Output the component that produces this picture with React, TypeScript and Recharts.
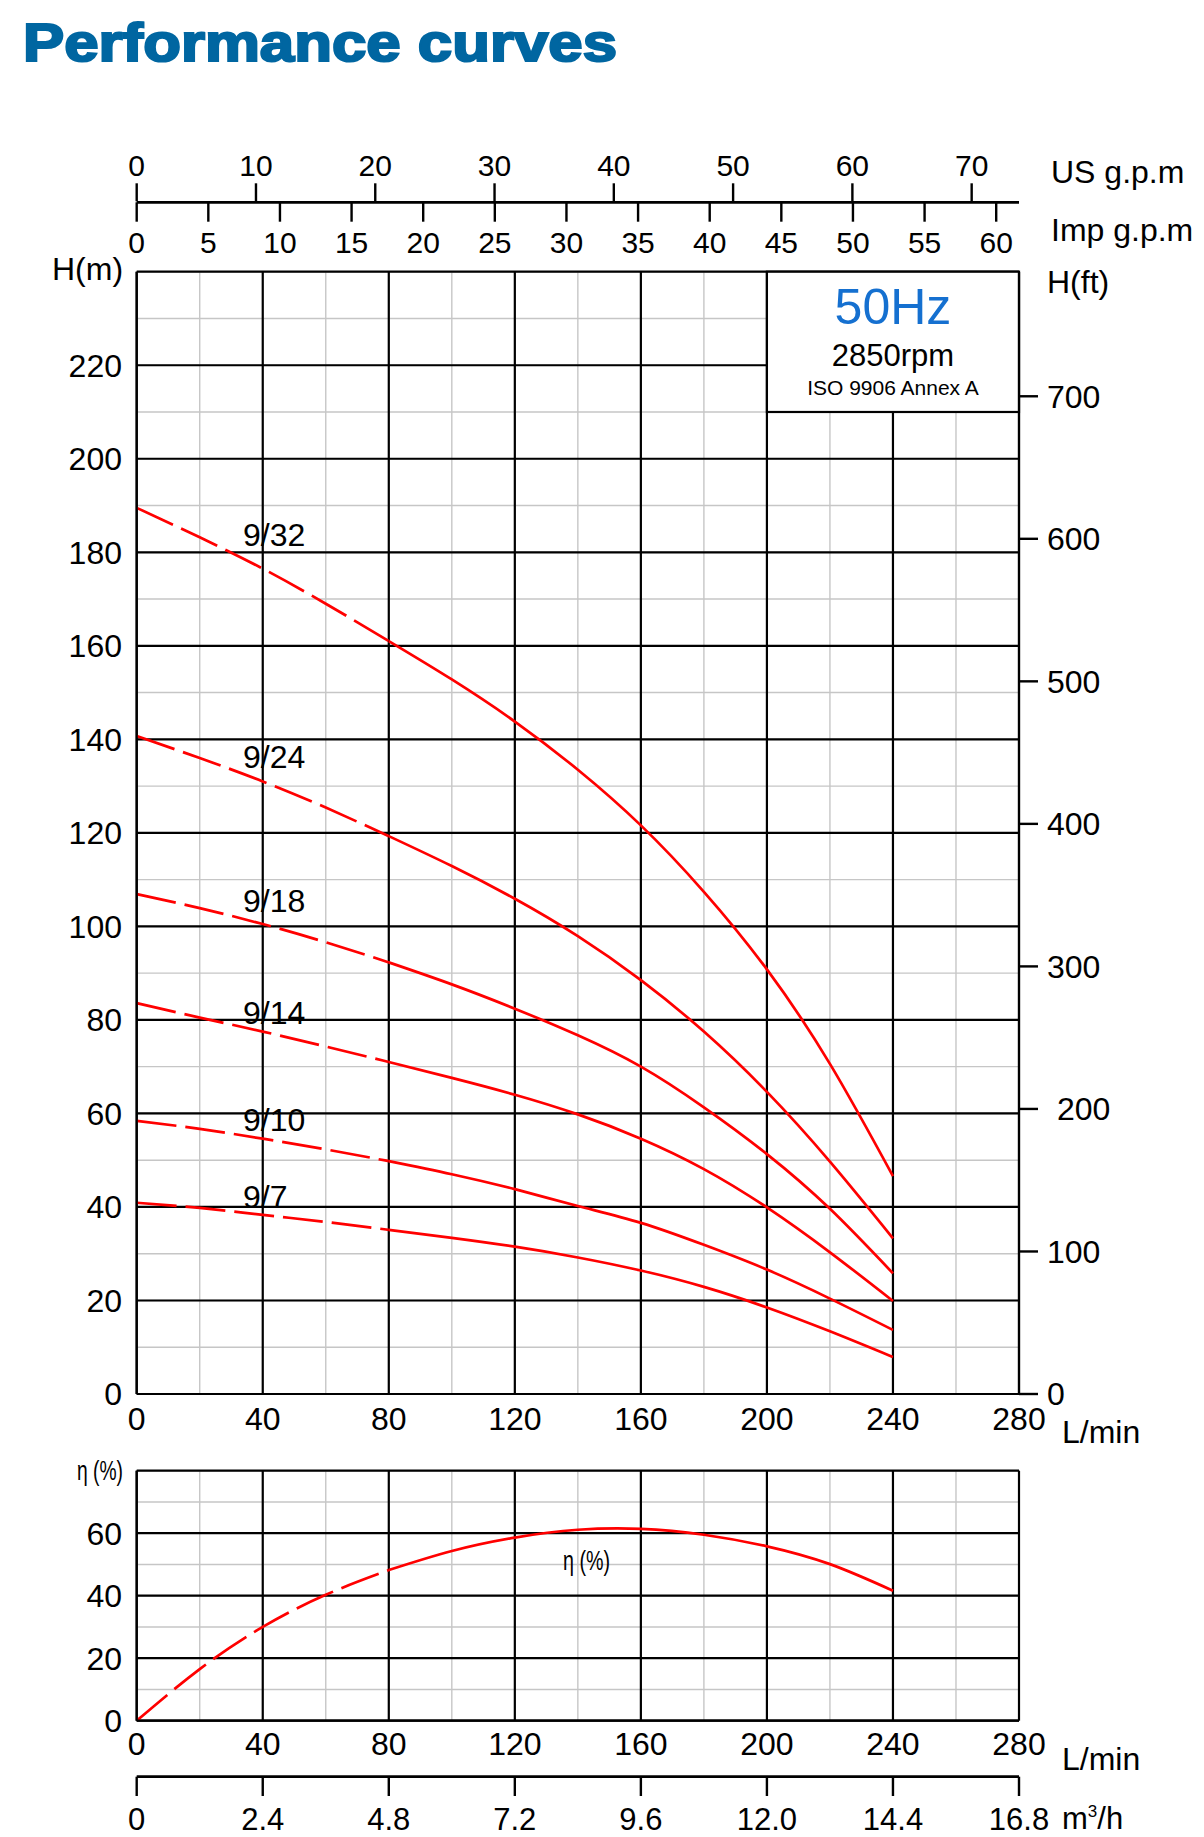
import { LineChart, Line, XAxis, YAxis, CartesianGrid, ReferenceArea, ReferenceDot } from 'recharts';

// flow rate in L/min, read every 20 L/min
const flow = [0, 20, 40, 60, 80, 100, 120, 140, 160, 180, 200, 220, 240];

// head in metres for each pump model
const head932 = [189.5, 183.2, 176.5, 169, 161, 152.8, 143.8, 133.5, 121.6, 107.4, 90.8, 70.6, 46.6];
const head924 = [140.7, 136, 131, 125.4, 119.3, 112.9, 105.9, 97.9, 88.5, 77.5, 64.6, 49.7, 33.3];
const head918 = [106.9, 103.9, 100.5, 96.6, 92.3, 87.6, 82.4, 76.7, 70, 61.3, 51.3, 39.6, 25.8];
const head914 = [83.6, 80.5, 77.5, 74.3, 71, 67.6, 64, 59.8, 54.6, 48.1, 39.9, 30.3, 19.9];
const head910 = [58.4, 56.7, 54.6, 52.3, 49.8, 47, 43.8, 40.2, 36.6, 31.9, 26.6, 20.4, 13.7];
const head97 = [40.9, 39.8, 38.3, 36.8, 35.1, 33.4, 31.5, 29.2, 26.4, 22.9, 18.5, 13.4, 7.9];

// efficiency in %
const efficiency = [0, 16.5, 30, 40.3, 48.2, 54.3, 58.6, 61.1, 61.4, 59.5, 55.8, 50.1, 41.6];

const flowTicks = [0, 40, 80, 120, 160, 200, 240, 280];
const flowMinorTicks = [0, 20, 40, 60, 80, 100, 120, 140, 160, 180, 200, 220, 240, 260, 280];
const headTicks = [0, 20, 40, 60, 80, 100, 120, 140, 160, 180, 200, 220, 240];
const headMinorTicks = [0, 10, 20, 30, 40, 50, 60, 70, 80, 90, 100, 110, 120, 130, 140, 150, 160, 170, 180, 190, 200, 210, 220, 230, 240];
const feetTicks = [0, 100, 200, 300, 400, 500, 600, 700];
const usGpmTicks = [0, 10, 20, 30, 40, 50, 60, 70];
const impGpmTicks = [0, 5, 10, 15, 20, 25, 30, 35, 40, 45, 50, 55, 60];
const effTicks = [0, 20, 40, 60, 80];
const effMinorTicks = [0, 10, 20, 30, 40, 50, 60, 70, 80];

const pumps = [
  { key: 'p32', name: '9/32', head: head932, labelAt: 181.4 },
  { key: 'p24', name: '9/24', head: head924, labelAt: 133.9 },
  { key: 'p18', name: '9/18', head: head918, labelAt: 103.1 },
  { key: 'p14', name: '9/14', head: head914, labelAt: 79.1 },
  { key: 'p10', name: '9/10', head: head910, labelAt: 56.3 },
  { key: 'p7', name: '9/7', head: head97, labelAt: 39.8 },
];

const LABEL_Q = 33.75;
const DASH_END = 80; // curves are dashed below 80 L/min
const US_GAL = 3.78541;
const IMP_GAL = 4.54609;
const M_PER_FT = 0.3048;

const FONT = "'Liberation Sans', Arial, Helvetica, sans-serif";
const RED = '#ff0000';
const MINOR = '#c6c6c6';
const BLACK = '#000';

const headRows = flow.map((q, i) => {
  const row: Record<string, number | null> = { q };
  pumps.forEach((p) => {
    row[p.key + 'd'] = q <= DASH_END ? p.head[i] : null;
    row[p.key] = q >= DASH_END ? p.head[i] : null;
  });
  return row;
});

const effRows = flow.map((q, i) => ({
  q,
  effd: q <= DASH_END ? efficiency[i] : null,
  eff: q >= DASH_END ? efficiency[i] : null,
}));

const axisLine = { stroke: BLACK, strokeWidth: 2.2 };
const tickLine = { stroke: BLACK, strokeWidth: 2.4 };
const tickText = (size: number) => ({ fill: BLACK, fontSize: size, fontFamily: FONT });

function curveProps(dashed: boolean) {
  return {
    type: 'natural' as const,
    stroke: RED,
    strokeWidth: 2.7,
    strokeDasharray: dashed ? '40 9' : undefined,
    dot: false,
    activeDot: false,
    isAnimationActive: false,
  };
}

function InfoBox(props: any) {
  const { x, y, width, height } = props;
  const cx = x + width / 2;
  return (
    <g fontFamily={FONT}>
      <rect x={x} y={y} width={width} height={height} fill="#fff" stroke={BLACK} strokeWidth={2.2} />
      <text x={cx} y={y + 52} textAnchor="middle" fontSize={50} fill="#1570d0">50Hz</text>
      <text x={cx} y={y + 94} textAnchor="middle" fontSize={31} fill={BLACK}>2850rpm</text>
      <text x={cx} y={y + 123} textAnchor="middle" fontSize={21} fill={BLACK}>ISO 9906 Annex A</text>
    </g>
  );
}

function FeetTick(props: any) {
  const { x, y, payload } = props;
  const shift = payload.value === 200 ? 10 : 0;
  return (
    <text x={x + shift} y={y} dy="0.355em" textAnchor="start" fontSize={32} fill={BLACK} fontFamily={FONT}>
      {payload.value}
    </text>
  );
}

function GpmAxes() {
  return (
    <LineChart width={1204} height={170} data={effRows} margin={{ top: 41.3, right: 185, bottom: 0, left: 136.7 }}>
      <XAxis
        xAxisId="us"
        orientation="top"
        dataKey="q"
        type="number"
        domain={[0, 280]}
        allowDataOverflow
        ticks={usGpmTicks.map((g) => g * US_GAL)}
        tickFormatter={(v: number) => String(Math.round(v / US_GAL))}
        interval={0}
        height={60}
        axisLine={false}
        tickLine={tickLine}
        tickSize={18}
        tickMargin={7}
        tick={tickText(30)}
      />
      <XAxis
        xAxisId="imp"
        orientation="bottom"
        dataKey="q"
        type="number"
        domain={[0, 280]}
        allowDataOverflow
        ticks={impGpmTicks.map((g) => g * IMP_GAL)}
        tickFormatter={(v: number) => String(Math.round(v / IMP_GAL))}
        interval={0}
        height={67.7}
        axisLine={{ stroke: BLACK, strokeWidth: 2.7 }}
        tickLine={tickLine}
        tickSize={19.4}
        tickMargin={10}
        tick={tickText(30)}
      />
    </LineChart>
  );
}

function HeadChart() {
  return (
    <LineChart width={1204} height={1200} data={headRows} margin={{ top: 21.7, right: 0, bottom: 0, left: 0 }}>
      <XAxis xAxisId="minor" dataKey="q" type="number" domain={[0, 280]} allowDataOverflow ticks={flowMinorTicks} hide />
      <YAxis yAxisId="minor" type="number" domain={[0, 240]} allowDataOverflow ticks={headMinorTicks} hide />
      <CartesianGrid xAxisId="minor" yAxisId="minor" stroke={MINOR} strokeWidth={1.4} />
      <CartesianGrid stroke={BLACK} strokeWidth={2.2} />
      <XAxis
        dataKey="q"
        type="number"
        domain={[0, 280]}
        allowDataOverflow
        ticks={flowTicks}
        interval={0}
        height={56}
        axisLine={axisLine}
        tickLine={false}
        tickSize={0}
        tickMargin={13}
        tick={tickText(32)}
      />
      <YAxis
        type="number"
        domain={[0, 240]}
        allowDataOverflow
        ticks={headTicks}
        tickFormatter={(v: number) => (v === 240 ? '' : String(v))}
        interval={0}
        width={136.7}
        axisLine={axisLine}
        tickLine={false}
        tickSize={0}
        tickMargin={14.7}
        tick={tickText(32)}
      />
      <YAxis
        yAxisId="ft"
        orientation="right"
        type="number"
        domain={[0, 240 / M_PER_FT]}
        allowDataOverflow
        ticks={feetTicks}
        interval={0}
        width={185}
        axisLine={axisLine}
        tickLine={tickLine}
        tickSize={19}
        tickMargin={9}
        tick={<FeetTick />}
      />
      <ReferenceArea x1={200} x2={280} y1={210} y2={240} shape={<InfoBox />} />
      {pumps.flatMap((p) => [
        <Line key={p.key + 'd'} dataKey={p.key + 'd'} {...curveProps(true)} />,
        <Line key={p.key} dataKey={p.key} {...curveProps(false)} />,
      ])}
      {pumps.map((p) => (
        <ReferenceDot
          key={'lbl' + p.key}
          x={LABEL_Q}
          y={p.labelAt}
          r={0}
          shape={(s: any) => (
            <text x={s.cx} y={s.cy} fontSize={32} fill={BLACK} fontFamily={FONT}>
              {p.name}
            </text>
          )}
        />
      ))}
    </LineChart>
  );
}

function EfficiencyChart() {
  return (
    <LineChart width={1204} height={320} data={effRows} margin={{ top: 20.7, right: 185, bottom: 0, left: 0 }}>
      <XAxis xAxisId="minor" dataKey="q" type="number" domain={[0, 280]} allowDataOverflow ticks={flowMinorTicks} hide />
      <YAxis yAxisId="minor" type="number" domain={[0, 80]} allowDataOverflow ticks={effMinorTicks} hide />
      <CartesianGrid xAxisId="minor" yAxisId="minor" stroke={MINOR} strokeWidth={1.4} />
      <CartesianGrid stroke={BLACK} strokeWidth={2.2} />
      <XAxis
        dataKey="q"
        type="number"
        domain={[0, 280]}
        allowDataOverflow
        ticks={flowTicks}
        interval={0}
        height={49.3}
        axisLine={axisLine}
        tickLine={false}
        tickSize={0}
        tickMargin={12}
        tick={tickText(32)}
      />
      <YAxis
        type="number"
        domain={[0, 80]}
        allowDataOverflow
        ticks={effTicks}
        tickFormatter={(v: number) => (v === 80 ? '' : String(v))}
        interval={0}
        width={136.7}
        axisLine={axisLine}
        tickLine={false}
        tickSize={0}
        tickMargin={14.7}
        tick={tickText(32)}
      />
      <Line dataKey="effd" {...curveProps(true)} />
      <Line dataKey="eff" {...curveProps(false)} />
    </LineChart>
  );
}

function CubicAxis() {
  return (
    <LineChart width={1204} height={97} data={effRows} margin={{ top: 35.7, right: 185, bottom: 0, left: 136.7 }}>
      <XAxis
        dataKey="q"
        type="number"
        domain={[0, 280]}
        allowDataOverflow
        ticks={flowTicks}
        tickFormatter={(v: number) => (v === 0 ? '0' : (v * 0.06).toFixed(1))}
        interval={0}
        height={60.3}
        axisLine={{ stroke: BLACK, strokeWidth: 2.7 }}
        tickLine={tickLine}
        tickSize={19.3}
        tickMargin={12}
        tick={tickText(31)}
      />
    </LineChart>
  );
}

export default function App() {
  return (
    <div
      style={{
        position: 'absolute',
        left: 0,
        top: 0,
        width: 1204,
        height: 1837,
        background: '#fff',
        fontFamily: FONT,
      }}
    >
      <div style={{ position: 'absolute', left: 0, top: 100 }}>
        <GpmAxes />
      </div>
      <div style={{ position: 'absolute', left: 0, top: 250 }}>
        <HeadChart />
      </div>
      <div style={{ position: 'absolute', left: 0, top: 1450 }}>
        <EfficiencyChart />
      </div>
      <div style={{ position: 'absolute', left: 0, top: 1740 }}>
        <CubicAxis />
      </div>
      <svg
        width={1204}
        height={1837}
        fontFamily={FONT}
        style={{ position: 'absolute', left: 0, top: 0, pointerEvents: 'none' }}
      >
        <text
          x={23}
          y={61}
          fontSize={53}
          fontWeight="bold"
          fill="#0066a1"
          stroke="#0066a1"
          strokeWidth={2.2}
          textLength={594}
          lengthAdjust="spacingAndGlyphs"
        >
          Performance curves
        </text>
        <text x={1051} y={183} fontSize={32}>US g.p.m</text>
        <text x={1051} y={241} fontSize={32}>Imp g.p.m</text>
        <text x={52} y={280} fontSize={32}>H(m)</text>
        <text x={1047} y={293} fontSize={32}>H(ft)</text>
        <text x={1062} y={1443} fontSize={32}>L/min</text>
        <text x={77} y={1480} fontSize={28} textLength={46} lengthAdjust="spacingAndGlyphs">η (%)</text>
        <text x={563} y={1570} fontSize={28} textLength={47} lengthAdjust="spacingAndGlyphs">η (%)</text>
        <text x={1062} y={1770} fontSize={32}>L/min</text>
        <text x={1062} y={1829} fontSize={31}>
          m<tspan dy={-12} fontSize={17}>3</tspan>
          <tspan dy={12}>/h</tspan>
        </text>
      </svg>
    </div>
  );
}
